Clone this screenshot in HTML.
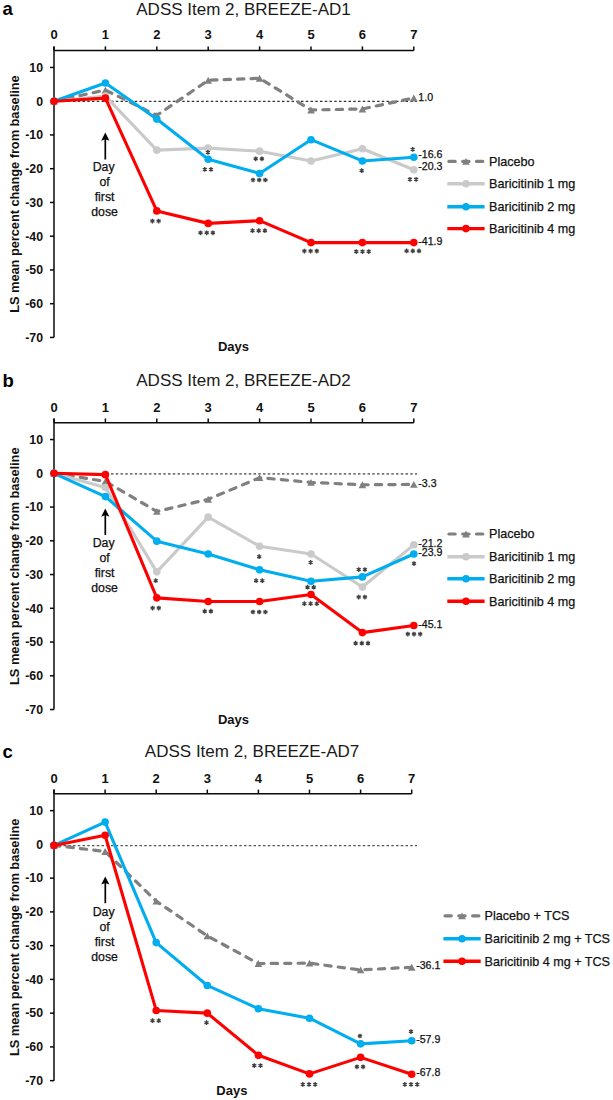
<!DOCTYPE html>
<html><head><meta charset="utf-8"><title>ADSS Item 2</title>
<style>
html,body{margin:0;padding:0;background:#fff;overflow:hidden;}
svg{display:block;}
text{font-family:"Liberation Sans", sans-serif;}
.s{stroke:#111;stroke-width:0.25px;}
</style></head>
<body>
<svg width="613" height="1100" viewBox="0 0 613 1100">
<rect width="613" height="1100" fill="#fff"/>
<text x="2.5" y="15.0" font-size="18.5" font-weight="bold" fill="#000">a</text>
<text x="243.5" y="14.7" font-size="17" text-anchor="middle" fill="#1a1a1a">ADSS Item 2, BREEZE-AD1</text>
<path d="M54.00,50.58 H413.80" stroke="#0a0a0a" stroke-width="1.5" fill="none"/>
<path d="M54.00,50.58 V46.38" stroke="#0a0a0a" stroke-width="1.5"/>
<text x="54.00" y="38.78" font-size="13" font-weight="bold" text-anchor="middle" fill="#111">0</text>
<path d="M105.40,50.58 V46.38" stroke="#0a0a0a" stroke-width="1.5"/>
<text x="105.40" y="38.78" font-size="13" font-weight="bold" text-anchor="middle" fill="#111">1</text>
<path d="M156.80,50.58 V46.38" stroke="#0a0a0a" stroke-width="1.5"/>
<text x="156.80" y="38.78" font-size="13" font-weight="bold" text-anchor="middle" fill="#111">2</text>
<path d="M208.20,50.58 V46.38" stroke="#0a0a0a" stroke-width="1.5"/>
<text x="208.20" y="38.78" font-size="13" font-weight="bold" text-anchor="middle" fill="#111">3</text>
<path d="M259.60,50.58 V46.38" stroke="#0a0a0a" stroke-width="1.5"/>
<text x="259.60" y="38.78" font-size="13" font-weight="bold" text-anchor="middle" fill="#111">4</text>
<path d="M311.00,50.58 V46.38" stroke="#0a0a0a" stroke-width="1.5"/>
<text x="311.00" y="38.78" font-size="13" font-weight="bold" text-anchor="middle" fill="#111">5</text>
<path d="M362.40,50.58 V46.38" stroke="#0a0a0a" stroke-width="1.5"/>
<text x="362.40" y="38.78" font-size="13" font-weight="bold" text-anchor="middle" fill="#111">6</text>
<path d="M413.80,50.58 V46.38" stroke="#0a0a0a" stroke-width="1.5"/>
<text x="413.80" y="38.78" font-size="13" font-weight="bold" text-anchor="middle" fill="#111">7</text>
<path d="M54.00,46.38 V337.45" stroke="#0a0a0a" stroke-width="1.5" fill="none"/>
<path d="M50.00,67.45 H54.00" stroke="#0a0a0a" stroke-width="1.5"/>
<text x="43" y="71.75" font-size="12.3" font-weight="bold" text-anchor="end" fill="#111">10</text>
<path d="M50.00,101.20 H54.00" stroke="#0a0a0a" stroke-width="1.5"/>
<text x="43" y="105.50" font-size="12.3" font-weight="bold" text-anchor="end" fill="#111">0</text>
<path d="M50.00,134.95 H54.00" stroke="#0a0a0a" stroke-width="1.5"/>
<text x="43" y="139.25" font-size="12.3" font-weight="bold" text-anchor="end" fill="#111">-10</text>
<path d="M50.00,168.70 H54.00" stroke="#0a0a0a" stroke-width="1.5"/>
<text x="43" y="173.00" font-size="12.3" font-weight="bold" text-anchor="end" fill="#111">-20</text>
<path d="M50.00,202.45 H54.00" stroke="#0a0a0a" stroke-width="1.5"/>
<text x="43" y="206.75" font-size="12.3" font-weight="bold" text-anchor="end" fill="#111">-30</text>
<path d="M50.00,236.20 H54.00" stroke="#0a0a0a" stroke-width="1.5"/>
<text x="43" y="240.50" font-size="12.3" font-weight="bold" text-anchor="end" fill="#111">-40</text>
<path d="M50.00,269.95 H54.00" stroke="#0a0a0a" stroke-width="1.5"/>
<text x="43" y="274.25" font-size="12.3" font-weight="bold" text-anchor="end" fill="#111">-50</text>
<path d="M50.00,303.70 H54.00" stroke="#0a0a0a" stroke-width="1.5"/>
<text x="43" y="308.00" font-size="12.3" font-weight="bold" text-anchor="end" fill="#111">-60</text>
<path d="M50.00,337.45 H54.00" stroke="#0a0a0a" stroke-width="1.5"/>
<text x="43" y="341.75" font-size="12.3" font-weight="bold" text-anchor="end" fill="#111">-70</text>
<text transform="translate(18.5,194.10) rotate(-90)" x="0" y="0" font-size="12.9" font-weight="bold" text-anchor="middle" textLength="237.5" lengthAdjust="spacing" fill="#111">LS mean percent change from baseline</text>
<text x="233.5" y="351.2" font-size="13" font-weight="bold" text-anchor="middle" fill="#111">Days</text>
<path d="M54.00,101.40 H417.00" stroke="#333" stroke-width="1.1" stroke-dasharray="2.5 2.25" fill="none"/>
<polyline points="54.00,101.20 105.40,90.06 156.80,115.38 208.20,80.28 259.60,78.25 311.00,109.98 362.40,108.96 413.80,97.99" fill="none" stroke="#808080" stroke-width="3.2" stroke-linejoin="round" stroke-dasharray="6.3 7.16" stroke-dashoffset="0.36" stroke-linecap="round"/>
<path d="M54.00,97.78 L57.80,104.62 L50.20,104.62 Z" fill="#808080"/>
<path d="M105.40,86.64 L109.20,93.48 L101.60,93.48 Z" fill="#808080"/>
<path d="M156.80,111.95 L160.60,118.80 L153.00,118.80 Z" fill="#808080"/>
<path d="M208.20,76.86 L212.00,83.70 L204.40,83.70 Z" fill="#808080"/>
<path d="M259.60,74.83 L263.40,81.67 L255.80,81.67 Z" fill="#808080"/>
<path d="M311.00,106.56 L314.80,113.40 L307.20,113.40 Z" fill="#808080"/>
<path d="M362.40,105.54 L366.20,112.38 L358.60,112.38 Z" fill="#808080"/>
<path d="M413.80,94.57 L417.60,101.41 L410.00,101.41 Z" fill="#808080"/>
<polyline points="54.00,101.20 105.40,96.14 156.80,150.14 208.20,148.11 259.60,151.15 311.00,160.94 362.40,148.79 413.80,169.71" fill="none" stroke="#CACACA" stroke-width="3.1" stroke-linejoin="round"/>
<circle cx="54.00" cy="101.20" r="3.8" fill="#CACACA"/>
<circle cx="105.40" cy="96.14" r="3.8" fill="#CACACA"/>
<circle cx="156.80" cy="150.14" r="3.8" fill="#CACACA"/>
<circle cx="208.20" cy="148.11" r="3.8" fill="#CACACA"/>
<circle cx="259.60" cy="151.15" r="3.8" fill="#CACACA"/>
<circle cx="311.00" cy="160.94" r="3.8" fill="#CACACA"/>
<circle cx="362.40" cy="148.79" r="3.8" fill="#CACACA"/>
<circle cx="413.80" cy="169.71" r="3.8" fill="#CACACA"/>
<polyline points="54.00,101.20 105.40,82.97 156.80,119.09 208.20,159.25 259.60,173.43 311.00,139.68 362.40,160.94 413.80,157.23" fill="none" stroke="#00ADEE" stroke-width="3.1" stroke-linejoin="round"/>
<circle cx="54.00" cy="101.20" r="3.8" fill="#00ADEE"/>
<circle cx="105.40" cy="82.97" r="3.8" fill="#00ADEE"/>
<circle cx="156.80" cy="119.09" r="3.8" fill="#00ADEE"/>
<circle cx="208.20" cy="159.25" r="3.8" fill="#00ADEE"/>
<circle cx="259.60" cy="173.43" r="3.8" fill="#00ADEE"/>
<circle cx="311.00" cy="139.68" r="3.8" fill="#00ADEE"/>
<circle cx="362.40" cy="160.94" r="3.8" fill="#00ADEE"/>
<circle cx="413.80" cy="157.23" r="3.8" fill="#00ADEE"/>
<polyline points="54.00,101.20 105.40,98.16 156.80,210.89 208.20,223.38 259.60,220.68 311.00,242.61 362.40,242.61 413.80,242.61" fill="none" stroke="#FF0000" stroke-width="3.1" stroke-linejoin="round"/>
<circle cx="54.00" cy="101.20" r="3.8" fill="#FF0000"/>
<circle cx="105.40" cy="98.16" r="3.8" fill="#FF0000"/>
<circle cx="156.80" cy="210.89" r="3.8" fill="#FF0000"/>
<circle cx="208.20" cy="223.38" r="3.8" fill="#FF0000"/>
<circle cx="259.60" cy="220.68" r="3.8" fill="#FF0000"/>
<circle cx="311.00" cy="242.61" r="3.8" fill="#FF0000"/>
<circle cx="362.40" cy="242.61" r="3.8" fill="#FF0000"/>
<circle cx="413.80" cy="242.61" r="3.8" fill="#FF0000"/>
<text x="418.30" y="101.1" font-size="10.6" fill="#111" class="s">1.0</text>
<text x="418.30" y="158.4" font-size="10.6" fill="#111" class="s">-16.6</text>
<text x="418.30" y="170.1" font-size="10.6" fill="#111" class="s">-20.3</text>
<text x="418.30" y="244.5" font-size="10.6" fill="#111" class="s">-41.9</text>
<path d="M207.90,150.05V154.75M205.86,151.22L209.94,153.57M205.86,153.57L209.94,151.22" stroke="#404040" stroke-width="1.35" fill="none"/>
<path d="M204.80,167.05V171.75M202.76,168.22L206.84,170.57M202.76,170.57L206.84,168.22M211.00,167.05V171.75M208.96,168.22L213.04,170.57M208.96,170.57L213.04,168.22" stroke="#404040" stroke-width="1.35" fill="none"/>
<path d="M255.70,156.45V161.15M253.66,157.62L257.74,159.97M253.66,159.97L257.74,157.62M261.90,156.45V161.15M259.86,157.62L263.94,159.97M259.86,159.97L263.94,157.62" stroke="#404040" stroke-width="1.35" fill="none"/>
<path d="M253.00,177.65V182.35M250.96,178.82L255.04,181.18M250.96,181.18L255.04,178.82M259.20,177.65V182.35M257.16,178.82L261.24,181.18M257.16,181.18L261.24,178.82M265.40,177.65V182.35M263.36,178.82L267.44,181.18M263.36,181.18L267.44,178.82" stroke="#404040" stroke-width="1.35" fill="none"/>
<path d="M361.70,168.35V173.05M359.66,169.52L363.74,171.88M359.66,171.88L363.74,169.52" stroke="#404040" stroke-width="1.35" fill="none"/>
<path d="M412.70,146.95V151.65M410.66,148.12L414.74,150.47M410.66,150.47L414.74,148.12" stroke="#404040" stroke-width="1.35" fill="none"/>
<path d="M409.90,176.95V181.65M407.86,178.12L411.94,180.47M407.86,180.47L411.94,178.12M416.10,176.95V181.65M414.06,178.12L418.14,180.47M414.06,180.47L418.14,178.12" stroke="#404040" stroke-width="1.35" fill="none"/>
<path d="M152.40,218.75V223.45M150.36,219.92L154.44,222.28M150.36,222.28L154.44,219.92M158.60,218.75V223.45M156.56,219.92L160.64,222.28M156.56,222.28L160.64,219.92" stroke="#404040" stroke-width="1.35" fill="none"/>
<path d="M200.50,230.45V235.15M198.46,231.62L202.54,233.97M198.46,233.97L202.54,231.62M206.70,230.45V235.15M204.66,231.62L208.74,233.97M204.66,233.97L208.74,231.62M212.90,230.45V235.15M210.86,231.62L214.94,233.97M210.86,233.97L214.94,231.62" stroke="#404040" stroke-width="1.35" fill="none"/>
<path d="M252.50,228.35V233.05M250.46,229.52L254.54,231.88M250.46,231.88L254.54,229.52M258.70,228.35V233.05M256.66,229.52L260.74,231.88M256.66,231.88L260.74,229.52M264.90,228.35V233.05M262.86,229.52L266.94,231.88M262.86,231.88L266.94,229.52" stroke="#404040" stroke-width="1.35" fill="none"/>
<path d="M304.40,248.75V253.45M302.36,249.92L306.44,252.28M302.36,252.28L306.44,249.92M310.60,248.75V253.45M308.56,249.92L312.64,252.28M308.56,252.28L312.64,249.92M316.80,248.75V253.45M314.76,249.92L318.84,252.28M314.76,252.28L318.84,249.92" stroke="#404040" stroke-width="1.35" fill="none"/>
<path d="M356.30,249.25V253.95M354.26,250.42L358.34,252.78M354.26,252.78L358.34,250.42M362.50,249.25V253.95M360.46,250.42L364.54,252.78M360.46,252.78L364.54,250.42M368.70,249.25V253.95M366.66,250.42L370.74,252.78M366.66,252.78L370.74,250.42" stroke="#404040" stroke-width="1.35" fill="none"/>
<path d="M406.60,248.55V253.25M404.56,249.72L408.64,252.07M404.56,252.07L408.64,249.72M412.80,248.55V253.25M410.76,249.72L414.84,252.07M410.76,252.07L414.84,249.72M419.00,248.55V253.25M416.96,249.72L421.04,252.07M416.96,252.07L421.04,249.72" stroke="#404040" stroke-width="1.35" fill="none"/>
<path d="M105.3,139.0 V159.5" stroke="#000" stroke-width="1.7"/>
<path d="M105.3,132.6 L109.39999999999999,140.8 L105.3,139.2 L101.2,140.8 Z" fill="#000"/>
<text x="103.6" y="171.40" font-size="12.3" text-anchor="middle" fill="#111" class="s">Day</text>
<text x="104.6" y="186.40" font-size="12.3" text-anchor="middle" fill="#111" class="s">of</text>
<text x="104.6" y="201.40" font-size="12.3" text-anchor="middle" fill="#111" class="s">first</text>
<text x="104.6" y="216.40" font-size="12.3" text-anchor="middle" fill="#111" class="s">dose</text>
<path d="M448.90,161.4 H455.20 M462.70,161.4 H469.00 M476.50,161.4 H482.80" stroke="#808080" stroke-width="3.2" stroke-linecap="round"/>
<path d="M465.95,157.98 L469.75,164.82 L462.15,164.82 Z" fill="#808080"/>
<text x="489.1" y="165.80" font-size="12.6" fill="#111" class="s">Placebo</text>
<path d="M447.30,183.8 H484.60" stroke="#CACACA" stroke-width="3.4"/>
<circle cx="465.95" cy="183.80" r="3.8" fill="#CACACA"/>
<text x="489.1" y="188.20" font-size="12.6" fill="#111" class="s">Baricitinib 1 mg</text>
<path d="M447.30,206.8 H484.60" stroke="#00ADEE" stroke-width="3.4"/>
<circle cx="465.95" cy="206.80" r="3.8" fill="#00ADEE"/>
<text x="489.1" y="211.20" font-size="12.6" fill="#111" class="s">Baricitinib 2 mg</text>
<path d="M447.30,228.6 H484.60" stroke="#FF0000" stroke-width="3.4"/>
<circle cx="465.95" cy="228.60" r="3.8" fill="#FF0000"/>
<text x="489.1" y="233.00" font-size="12.6" fill="#111" class="s">Baricitinib 4 mg</text>
<text x="2.5" y="386.6" font-size="18.5" font-weight="bold" fill="#000">b</text>
<text x="243.5" y="386.2" font-size="17" text-anchor="middle" fill="#1a1a1a">ADSS Item 2, BREEZE-AD2</text>
<path d="M54.00,422.68 H413.80" stroke="#0a0a0a" stroke-width="1.5" fill="none"/>
<path d="M54.00,422.68 V418.48" stroke="#0a0a0a" stroke-width="1.5"/>
<text x="54.00" y="412.07" font-size="13" font-weight="bold" text-anchor="middle" fill="#111">0</text>
<path d="M105.40,422.68 V418.48" stroke="#0a0a0a" stroke-width="1.5"/>
<text x="105.40" y="412.07" font-size="13" font-weight="bold" text-anchor="middle" fill="#111">1</text>
<path d="M156.80,422.68 V418.48" stroke="#0a0a0a" stroke-width="1.5"/>
<text x="156.80" y="412.07" font-size="13" font-weight="bold" text-anchor="middle" fill="#111">2</text>
<path d="M208.20,422.68 V418.48" stroke="#0a0a0a" stroke-width="1.5"/>
<text x="208.20" y="412.07" font-size="13" font-weight="bold" text-anchor="middle" fill="#111">3</text>
<path d="M259.60,422.68 V418.48" stroke="#0a0a0a" stroke-width="1.5"/>
<text x="259.60" y="412.07" font-size="13" font-weight="bold" text-anchor="middle" fill="#111">4</text>
<path d="M311.00,422.68 V418.48" stroke="#0a0a0a" stroke-width="1.5"/>
<text x="311.00" y="412.07" font-size="13" font-weight="bold" text-anchor="middle" fill="#111">5</text>
<path d="M362.40,422.68 V418.48" stroke="#0a0a0a" stroke-width="1.5"/>
<text x="362.40" y="412.07" font-size="13" font-weight="bold" text-anchor="middle" fill="#111">6</text>
<path d="M413.80,422.68 V418.48" stroke="#0a0a0a" stroke-width="1.5"/>
<text x="413.80" y="412.07" font-size="13" font-weight="bold" text-anchor="middle" fill="#111">7</text>
<path d="M54.00,418.48 V709.55" stroke="#0a0a0a" stroke-width="1.5" fill="none"/>
<path d="M50.00,439.55 H54.00" stroke="#0a0a0a" stroke-width="1.5"/>
<text x="43" y="443.85" font-size="12.3" font-weight="bold" text-anchor="end" fill="#111">10</text>
<path d="M50.00,473.30 H54.00" stroke="#0a0a0a" stroke-width="1.5"/>
<text x="43" y="477.60" font-size="12.3" font-weight="bold" text-anchor="end" fill="#111">0</text>
<path d="M50.00,507.05 H54.00" stroke="#0a0a0a" stroke-width="1.5"/>
<text x="43" y="511.35" font-size="12.3" font-weight="bold" text-anchor="end" fill="#111">-10</text>
<path d="M50.00,540.80 H54.00" stroke="#0a0a0a" stroke-width="1.5"/>
<text x="43" y="545.10" font-size="12.3" font-weight="bold" text-anchor="end" fill="#111">-20</text>
<path d="M50.00,574.55 H54.00" stroke="#0a0a0a" stroke-width="1.5"/>
<text x="43" y="578.85" font-size="12.3" font-weight="bold" text-anchor="end" fill="#111">-30</text>
<path d="M50.00,608.30 H54.00" stroke="#0a0a0a" stroke-width="1.5"/>
<text x="43" y="612.60" font-size="12.3" font-weight="bold" text-anchor="end" fill="#111">-40</text>
<path d="M50.00,642.05 H54.00" stroke="#0a0a0a" stroke-width="1.5"/>
<text x="43" y="646.35" font-size="12.3" font-weight="bold" text-anchor="end" fill="#111">-50</text>
<path d="M50.00,675.80 H54.00" stroke="#0a0a0a" stroke-width="1.5"/>
<text x="43" y="680.10" font-size="12.3" font-weight="bold" text-anchor="end" fill="#111">-60</text>
<path d="M50.00,709.55 H54.00" stroke="#0a0a0a" stroke-width="1.5"/>
<text x="43" y="713.85" font-size="12.3" font-weight="bold" text-anchor="end" fill="#111">-70</text>
<text transform="translate(18.5,566.20) rotate(-90)" x="0" y="0" font-size="12.9" font-weight="bold" text-anchor="middle" textLength="237.5" lengthAdjust="spacing" fill="#111">LS mean percent change from baseline</text>
<text x="233.5" y="724.2" font-size="13" font-weight="bold" text-anchor="middle" fill="#111">Days</text>
<path d="M54.00,473.90 H417.00" stroke="#777" stroke-width="1.7" stroke-dasharray="2.5 2.25" fill="none"/>
<polyline points="54.00,473.30 105.40,481.40 156.80,511.44 208.20,499.29 259.60,477.69 311.00,482.41 362.40,484.78 413.80,484.44" fill="none" stroke="#808080" stroke-width="3.2" stroke-linejoin="round" stroke-dasharray="6.3 7.16" stroke-dashoffset="0.36" stroke-linecap="round"/>
<path d="M54.00,469.88 L57.80,476.72 L50.20,476.72 Z" fill="#808080"/>
<path d="M105.40,477.98 L109.20,484.82 L101.60,484.82 Z" fill="#808080"/>
<path d="M156.80,508.02 L160.60,514.86 L153.00,514.86 Z" fill="#808080"/>
<path d="M208.20,495.87 L212.00,502.71 L204.40,502.71 Z" fill="#808080"/>
<path d="M259.60,474.27 L263.40,481.11 L255.80,481.11 Z" fill="#808080"/>
<path d="M311.00,478.99 L314.80,485.83 L307.20,485.83 Z" fill="#808080"/>
<path d="M362.40,481.36 L366.20,488.20 L358.60,488.20 Z" fill="#808080"/>
<path d="M413.80,481.02 L417.60,487.86 L410.00,487.86 Z" fill="#808080"/>
<polyline points="54.00,473.30 105.40,487.48 156.80,571.85 208.20,517.17 259.60,546.20 311.00,553.96 362.40,587.04 413.80,544.85" fill="none" stroke="#CACACA" stroke-width="3.1" stroke-linejoin="round"/>
<circle cx="54.00" cy="473.30" r="3.8" fill="#CACACA"/>
<circle cx="105.40" cy="487.48" r="3.8" fill="#CACACA"/>
<circle cx="156.80" cy="571.85" r="3.8" fill="#CACACA"/>
<circle cx="208.20" cy="517.17" r="3.8" fill="#CACACA"/>
<circle cx="259.60" cy="546.20" r="3.8" fill="#CACACA"/>
<circle cx="311.00" cy="553.96" r="3.8" fill="#CACACA"/>
<circle cx="362.40" cy="587.04" r="3.8" fill="#CACACA"/>
<circle cx="413.80" cy="544.85" r="3.8" fill="#CACACA"/>
<polyline points="54.00,473.30 105.40,496.59 156.80,541.14 208.20,553.96 259.60,569.83 311.00,581.30 362.40,576.91 413.80,553.96" fill="none" stroke="#00ADEE" stroke-width="3.1" stroke-linejoin="round"/>
<circle cx="54.00" cy="473.30" r="3.8" fill="#00ADEE"/>
<circle cx="105.40" cy="496.59" r="3.8" fill="#00ADEE"/>
<circle cx="156.80" cy="541.14" r="3.8" fill="#00ADEE"/>
<circle cx="208.20" cy="553.96" r="3.8" fill="#00ADEE"/>
<circle cx="259.60" cy="569.83" r="3.8" fill="#00ADEE"/>
<circle cx="311.00" cy="581.30" r="3.8" fill="#00ADEE"/>
<circle cx="362.40" cy="576.91" r="3.8" fill="#00ADEE"/>
<circle cx="413.80" cy="553.96" r="3.8" fill="#00ADEE"/>
<polyline points="54.00,473.30 105.40,474.65 156.80,597.84 208.20,601.55 259.60,601.55 311.00,594.46 362.40,632.60 413.80,625.51" fill="none" stroke="#FF0000" stroke-width="3.1" stroke-linejoin="round"/>
<circle cx="54.00" cy="473.30" r="3.8" fill="#FF0000"/>
<circle cx="105.40" cy="474.65" r="3.8" fill="#FF0000"/>
<circle cx="156.80" cy="597.84" r="3.8" fill="#FF0000"/>
<circle cx="208.20" cy="601.55" r="3.8" fill="#FF0000"/>
<circle cx="259.60" cy="601.55" r="3.8" fill="#FF0000"/>
<circle cx="311.00" cy="594.46" r="3.8" fill="#FF0000"/>
<circle cx="362.40" cy="632.60" r="3.8" fill="#FF0000"/>
<circle cx="413.80" cy="625.51" r="3.8" fill="#FF0000"/>
<text x="418.30" y="486.7" font-size="10.6" fill="#111" class="s">-3.3</text>
<text x="418.30" y="547" font-size="10.6" fill="#111" class="s">-21.2</text>
<text x="418.30" y="556" font-size="10.6" fill="#111" class="s">-23.9</text>
<text x="418.30" y="627.5" font-size="10.6" fill="#111" class="s">-45.1</text>
<path d="M155.70,578.35V583.05M153.66,579.53L157.74,581.88M153.66,581.88L157.74,579.53" stroke="#404040" stroke-width="1.35" fill="none"/>
<path d="M152.60,605.75V610.45M150.56,606.93L154.64,609.27M150.56,609.27L154.64,606.93M158.80,605.75V610.45M156.76,606.93L160.84,609.27M156.76,609.27L160.84,606.93" stroke="#404040" stroke-width="1.35" fill="none"/>
<path d="M259.20,554.35V559.05M257.16,555.53L261.24,557.88M257.16,557.88L261.24,555.53" stroke="#404040" stroke-width="1.35" fill="none"/>
<path d="M256.10,578.35V583.05M254.06,579.53L258.14,581.88M254.06,581.88L258.14,579.53M262.30,578.35V583.05M260.26,579.53L264.34,581.88M260.26,581.88L264.34,579.53" stroke="#404040" stroke-width="1.35" fill="none"/>
<path d="M310.60,560.05V564.75M308.56,561.23L312.64,563.58M308.56,563.58L312.64,561.23" stroke="#404040" stroke-width="1.35" fill="none"/>
<path d="M307.50,584.85V589.55M305.46,586.03L309.54,588.38M305.46,588.38L309.54,586.03M313.70,584.85V589.55M311.66,586.03L315.74,588.38M311.66,588.38L315.74,586.03" stroke="#404040" stroke-width="1.35" fill="none"/>
<path d="M304.40,601.35V606.05M302.36,602.53L306.44,604.88M302.36,604.88L306.44,602.53M310.60,601.35V606.05M308.56,602.53L312.64,604.88M308.56,604.88L312.64,602.53M316.80,601.35V606.05M314.76,602.53L318.84,604.88M314.76,604.88L318.84,602.53" stroke="#404040" stroke-width="1.35" fill="none"/>
<path d="M204.70,608.85V613.55M202.66,610.03L206.74,612.38M202.66,612.38L206.74,610.03M210.90,608.85V613.55M208.86,610.03L212.94,612.38M208.86,612.38L212.94,610.03" stroke="#404040" stroke-width="1.35" fill="none"/>
<path d="M253.00,609.65V614.35M250.96,610.83L255.04,613.17M250.96,613.17L255.04,610.83M259.20,609.65V614.35M257.16,610.83L261.24,613.17M257.16,613.17L261.24,610.83M265.40,609.65V614.35M263.36,610.83L267.44,613.17M263.36,613.17L267.44,610.83" stroke="#404040" stroke-width="1.35" fill="none"/>
<path d="M358.70,567.25V571.95M356.66,568.43L360.74,570.77M356.66,570.77L360.74,568.43M364.90,567.25V571.95M362.86,568.43L366.94,570.77M362.86,570.77L366.94,568.43" stroke="#404040" stroke-width="1.35" fill="none"/>
<path d="M358.70,594.75V599.45M356.66,595.93L360.74,598.27M356.66,598.27L360.74,595.93M364.90,594.75V599.45M362.86,595.93L366.94,598.27M362.86,598.27L366.94,595.93" stroke="#404040" stroke-width="1.35" fill="none"/>
<path d="M355.60,640.85V645.55M353.56,642.03L357.64,644.38M353.56,644.38L357.64,642.03M361.80,640.85V645.55M359.76,642.03L363.84,644.38M359.76,644.38L363.84,642.03M368.00,640.85V645.55M365.96,642.03L370.04,644.38M365.96,644.38L370.04,642.03" stroke="#404040" stroke-width="1.35" fill="none"/>
<path d="M414.00,561.25V565.95M411.96,562.43L416.04,564.77M411.96,564.77L416.04,562.43" stroke="#404040" stroke-width="1.35" fill="none"/>
<path d="M407.80,631.75V636.45M405.76,632.93L409.84,635.27M405.76,635.27L409.84,632.93M414.00,631.75V636.45M411.96,632.93L416.04,635.27M411.96,635.27L416.04,632.93M420.20,631.75V636.45M418.16,632.93L422.24,635.27M418.16,635.27L422.24,632.93" stroke="#404040" stroke-width="1.35" fill="none"/>
<path d="M105.3,514.9 V535.0" stroke="#000" stroke-width="1.7"/>
<path d="M105.3,508.5 L109.39999999999999,516.6999999999999 L105.3,515.1 L101.2,516.6999999999999 Z" fill="#000"/>
<text x="103.6" y="547.10" font-size="12.3" text-anchor="middle" fill="#111" class="s">Day</text>
<text x="104.6" y="562.10" font-size="12.3" text-anchor="middle" fill="#111" class="s">of</text>
<text x="104.6" y="577.10" font-size="12.3" text-anchor="middle" fill="#111" class="s">first</text>
<text x="104.6" y="592.10" font-size="12.3" text-anchor="middle" fill="#111" class="s">dose</text>
<path d="M448.90,534 H455.20 M462.70,534 H469.00 M476.50,534 H482.80" stroke="#808080" stroke-width="3.2" stroke-linecap="round"/>
<path d="M465.95,530.58 L469.75,537.42 L462.15,537.42 Z" fill="#808080"/>
<text x="489.1" y="538.40" font-size="12.6" fill="#111" class="s">Placebo</text>
<path d="M447.30,556.7 H484.60" stroke="#CACACA" stroke-width="3.4"/>
<circle cx="465.95" cy="556.70" r="3.8" fill="#CACACA"/>
<text x="489.1" y="561.10" font-size="12.6" fill="#111" class="s">Baricitinib 1 mg</text>
<path d="M447.30,578.8 H484.60" stroke="#00ADEE" stroke-width="3.4"/>
<circle cx="465.95" cy="578.80" r="3.8" fill="#00ADEE"/>
<text x="489.1" y="583.20" font-size="12.6" fill="#111" class="s">Baricitinib 2 mg</text>
<path d="M447.30,601.2 H484.60" stroke="#FF0000" stroke-width="3.4"/>
<circle cx="465.95" cy="601.20" r="3.8" fill="#FF0000"/>
<text x="489.1" y="605.60" font-size="12.6" fill="#111" class="s">Baricitinib 4 mg</text>
<text x="2.5" y="758.4" font-size="18.5" font-weight="bold" fill="#000">c</text>
<text x="252.1" y="757.0" font-size="17" text-anchor="middle" fill="#1a1a1a">ADSS Item 2, BREEZE-AD7</text>
<path d="M54.00,793.77 H411.70" stroke="#0a0a0a" stroke-width="1.5" fill="none"/>
<path d="M54.00,793.77 V789.57" stroke="#0a0a0a" stroke-width="1.5"/>
<text x="54.00" y="783.18" font-size="13" font-weight="bold" text-anchor="middle" fill="#111">0</text>
<path d="M105.10,793.77 V789.57" stroke="#0a0a0a" stroke-width="1.5"/>
<text x="105.10" y="783.18" font-size="13" font-weight="bold" text-anchor="middle" fill="#111">1</text>
<path d="M156.20,793.77 V789.57" stroke="#0a0a0a" stroke-width="1.5"/>
<text x="156.20" y="783.18" font-size="13" font-weight="bold" text-anchor="middle" fill="#111">2</text>
<path d="M207.30,793.77 V789.57" stroke="#0a0a0a" stroke-width="1.5"/>
<text x="207.30" y="783.18" font-size="13" font-weight="bold" text-anchor="middle" fill="#111">3</text>
<path d="M258.40,793.77 V789.57" stroke="#0a0a0a" stroke-width="1.5"/>
<text x="258.40" y="783.18" font-size="13" font-weight="bold" text-anchor="middle" fill="#111">4</text>
<path d="M309.50,793.77 V789.57" stroke="#0a0a0a" stroke-width="1.5"/>
<text x="309.50" y="783.18" font-size="13" font-weight="bold" text-anchor="middle" fill="#111">5</text>
<path d="M360.60,793.77 V789.57" stroke="#0a0a0a" stroke-width="1.5"/>
<text x="360.60" y="783.18" font-size="13" font-weight="bold" text-anchor="middle" fill="#111">6</text>
<path d="M411.70,793.77 V789.57" stroke="#0a0a0a" stroke-width="1.5"/>
<text x="411.70" y="783.18" font-size="13" font-weight="bold" text-anchor="middle" fill="#111">7</text>
<path d="M54.00,789.57 V1080.65" stroke="#0a0a0a" stroke-width="1.5" fill="none"/>
<path d="M50.00,810.65 H54.00" stroke="#0a0a0a" stroke-width="1.5"/>
<text x="43" y="814.95" font-size="12.3" font-weight="bold" text-anchor="end" fill="#111">10</text>
<path d="M50.00,844.40 H54.00" stroke="#0a0a0a" stroke-width="1.5"/>
<text x="43" y="848.70" font-size="12.3" font-weight="bold" text-anchor="end" fill="#111">0</text>
<path d="M50.00,878.15 H54.00" stroke="#0a0a0a" stroke-width="1.5"/>
<text x="43" y="882.45" font-size="12.3" font-weight="bold" text-anchor="end" fill="#111">-10</text>
<path d="M50.00,911.90 H54.00" stroke="#0a0a0a" stroke-width="1.5"/>
<text x="43" y="916.20" font-size="12.3" font-weight="bold" text-anchor="end" fill="#111">-20</text>
<path d="M50.00,945.65 H54.00" stroke="#0a0a0a" stroke-width="1.5"/>
<text x="43" y="949.95" font-size="12.3" font-weight="bold" text-anchor="end" fill="#111">-30</text>
<path d="M50.00,979.40 H54.00" stroke="#0a0a0a" stroke-width="1.5"/>
<text x="43" y="983.70" font-size="12.3" font-weight="bold" text-anchor="end" fill="#111">-40</text>
<path d="M50.00,1013.15 H54.00" stroke="#0a0a0a" stroke-width="1.5"/>
<text x="43" y="1017.45" font-size="12.3" font-weight="bold" text-anchor="end" fill="#111">-50</text>
<path d="M50.00,1046.90 H54.00" stroke="#0a0a0a" stroke-width="1.5"/>
<text x="43" y="1051.20" font-size="12.3" font-weight="bold" text-anchor="end" fill="#111">-60</text>
<path d="M50.00,1080.65 H54.00" stroke="#0a0a0a" stroke-width="1.5"/>
<text x="43" y="1084.95" font-size="12.3" font-weight="bold" text-anchor="end" fill="#111">-70</text>
<text transform="translate(18.5,937.30) rotate(-90)" x="0" y="0" font-size="12.9" font-weight="bold" text-anchor="middle" textLength="237.5" lengthAdjust="spacing" fill="#111">LS mean percent change from baseline</text>
<text x="231.9" y="1094.8" font-size="13" font-weight="bold" text-anchor="middle" fill="#111">Days</text>
<path d="M54.00,845.60 H417.00" stroke="#555" stroke-width="1.3" stroke-dasharray="2.5 2.25" fill="none"/>
<polyline points="54.00,845.40 105.10,851.48 156.20,901.09 207.30,935.85 258.40,963.52 309.50,963.19 360.60,969.94 411.70,967.24" fill="none" stroke="#808080" stroke-width="3.2" stroke-linejoin="round" stroke-dasharray="6.3 7.16" stroke-dashoffset="0.36" stroke-linecap="round"/>
<path d="M54.00,841.98 L57.80,848.82 L50.20,848.82 Z" fill="#808080"/>
<path d="M105.10,848.06 L108.90,854.89 L101.30,854.89 Z" fill="#808080"/>
<path d="M156.20,897.67 L160.00,904.51 L152.40,904.51 Z" fill="#808080"/>
<path d="M207.30,932.43 L211.10,939.27 L203.50,939.27 Z" fill="#808080"/>
<path d="M258.40,960.11 L262.20,966.94 L254.60,966.94 Z" fill="#808080"/>
<path d="M309.50,959.77 L313.30,966.61 L305.70,966.61 Z" fill="#808080"/>
<path d="M360.60,966.52 L364.40,973.36 L356.80,973.36 Z" fill="#808080"/>
<path d="M411.70,963.82 L415.50,970.66 L407.90,970.66 Z" fill="#808080"/>
<polyline points="54.00,845.40 105.10,822.11 156.20,942.60 207.30,985.46 258.40,1008.75 309.50,1018.20 360.60,1043.85 411.70,1040.81" fill="none" stroke="#00ADEE" stroke-width="3.1" stroke-linejoin="round"/>
<circle cx="54.00" cy="845.40" r="3.8" fill="#00ADEE"/>
<circle cx="105.10" cy="822.11" r="3.8" fill="#00ADEE"/>
<circle cx="156.20" cy="942.60" r="3.8" fill="#00ADEE"/>
<circle cx="207.30" cy="985.46" r="3.8" fill="#00ADEE"/>
<circle cx="258.40" cy="1008.75" r="3.8" fill="#00ADEE"/>
<circle cx="309.50" cy="1018.20" r="3.8" fill="#00ADEE"/>
<circle cx="360.60" cy="1043.85" r="3.8" fill="#00ADEE"/>
<circle cx="411.70" cy="1040.81" r="3.8" fill="#00ADEE"/>
<polyline points="54.00,845.40 105.10,835.27 156.20,1010.44 207.30,1013.14 258.40,1055.33 309.50,1073.89 360.60,1057.35 411.70,1074.22" fill="none" stroke="#FF0000" stroke-width="3.1" stroke-linejoin="round"/>
<circle cx="54.00" cy="845.40" r="3.8" fill="#FF0000"/>
<circle cx="105.10" cy="835.27" r="3.8" fill="#FF0000"/>
<circle cx="156.20" cy="1010.44" r="3.8" fill="#FF0000"/>
<circle cx="207.30" cy="1013.14" r="3.8" fill="#FF0000"/>
<circle cx="258.40" cy="1055.33" r="3.8" fill="#FF0000"/>
<circle cx="309.50" cy="1073.89" r="3.8" fill="#FF0000"/>
<circle cx="360.60" cy="1057.35" r="3.8" fill="#FF0000"/>
<circle cx="411.70" cy="1074.22" r="3.8" fill="#FF0000"/>
<text x="416.20" y="969" font-size="10.6" fill="#111" class="s">-36.1</text>
<text x="416.20" y="1042.5" font-size="10.6" fill="#111" class="s">-57.9</text>
<text x="416.20" y="1075.5" font-size="10.6" fill="#111" class="s">-67.8</text>
<path d="M152.50,1018.35V1023.05M150.46,1019.53L154.54,1021.88M150.46,1021.88L154.54,1019.53M158.70,1018.35V1023.05M156.66,1019.53L160.74,1021.88M156.66,1021.88L160.74,1019.53" stroke="#404040" stroke-width="1.35" fill="none"/>
<path d="M206.50,1020.35V1025.05M204.46,1021.53L208.54,1023.88M204.46,1023.88L208.54,1021.53" stroke="#404040" stroke-width="1.35" fill="none"/>
<path d="M254.30,1063.25V1067.95M252.26,1064.43L256.34,1066.78M252.26,1066.78L256.34,1064.43M260.50,1063.25V1067.95M258.46,1064.43L262.54,1066.78M258.46,1066.78L262.54,1064.43" stroke="#404040" stroke-width="1.35" fill="none"/>
<path d="M302.80,1082.05V1086.75M300.76,1083.23L304.84,1085.58M300.76,1085.58L304.84,1083.23M309.00,1082.05V1086.75M306.96,1083.23L311.04,1085.58M306.96,1085.58L311.04,1083.23M315.20,1082.05V1086.75M313.16,1083.23L317.24,1085.58M313.16,1085.58L317.24,1083.23" stroke="#404040" stroke-width="1.35" fill="none"/>
<path d="M360.00,1033.65V1038.35M357.96,1034.83L362.04,1037.17M357.96,1037.17L362.04,1034.83" stroke="#404040" stroke-width="1.35" fill="none"/>
<path d="M356.90,1064.45V1069.15M354.86,1065.62L358.94,1067.97M354.86,1067.97L358.94,1065.62M363.10,1064.45V1069.15M361.06,1065.62L365.14,1067.97M361.06,1067.97L365.14,1065.62" stroke="#404040" stroke-width="1.35" fill="none"/>
<path d="M411.00,1029.25V1033.95M408.96,1030.43L413.04,1032.78M408.96,1032.78L413.04,1030.43" stroke="#404040" stroke-width="1.35" fill="none"/>
<path d="M404.80,1082.05V1086.75M402.76,1083.23L406.84,1085.58M402.76,1085.58L406.84,1083.23M411.00,1082.05V1086.75M408.96,1083.23L413.04,1085.58M408.96,1085.58L413.04,1083.23M417.20,1082.05V1086.75M415.16,1083.23L419.24,1085.58M415.16,1085.58L419.24,1083.23" stroke="#404040" stroke-width="1.35" fill="none"/>
<path d="M105.3,882.8 V903.2" stroke="#000" stroke-width="1.7"/>
<path d="M105.3,876.4 L109.39999999999999,884.5999999999999 L105.3,883.0 L101.2,884.5999999999999 Z" fill="#000"/>
<text x="103.6" y="915.50" font-size="12.3" text-anchor="middle" fill="#111" class="s">Day</text>
<text x="104.6" y="930.50" font-size="12.3" text-anchor="middle" fill="#111" class="s">of</text>
<text x="104.6" y="945.50" font-size="12.3" text-anchor="middle" fill="#111" class="s">first</text>
<text x="104.6" y="960.50" font-size="12.3" text-anchor="middle" fill="#111" class="s">dose</text>
<path d="M445.00,915.8 H451.30 M458.80,915.8 H465.10 M472.60,915.8 H478.90" stroke="#808080" stroke-width="3.2" stroke-linecap="round"/>
<path d="M462.05,912.38 L465.85,919.22 L458.25,919.22 Z" fill="#808080"/>
<text x="484.6" y="920.20" font-size="12.6" fill="#111" class="s">Placebo + TCS</text>
<path d="M443.40,938.8 H480.70" stroke="#00ADEE" stroke-width="3.4"/>
<circle cx="462.05" cy="938.80" r="3.8" fill="#00ADEE"/>
<text x="484.6" y="943.20" font-size="12.6" fill="#111" class="s">Baricitinib 2 mg + TCS</text>
<path d="M443.40,961.2 H480.70" stroke="#FF0000" stroke-width="3.4"/>
<circle cx="462.05" cy="961.20" r="3.8" fill="#FF0000"/>
<text x="484.6" y="965.60" font-size="12.6" fill="#111" class="s">Baricitinib 4 mg + TCS</text>
</svg>
</body></html>
